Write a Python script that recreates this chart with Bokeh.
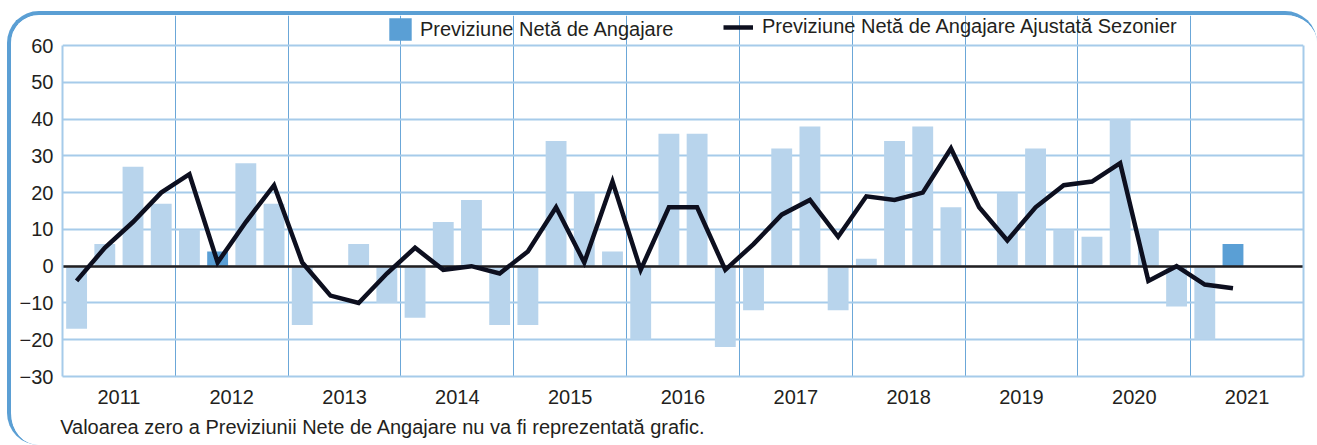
from bokeh.plotting import figure
from bokeh.models import (Range1d, FixedTicker, Legend, LegendItem,
                          LinearAxis, ColumnDataSource)
from bokeh.embed import file_html
from bokeh.resources import INLINE

# ---------------- data ----------------
years = ["2011", "2012", "2013", "2014", "2015", "2016",
         "2017", "2018", "2019", "2020", "2021"]
quarter_names = ["T1", "T2", "T3", "T4"]
quarters = [f"{y} {q}" for y in years for q in quarter_names][:42]

net_forecast = [-17, 6, 27, 17,
                10, 4, 28, 17,
                -16, 0, 6, -10,
                -14, 12, 18, -16,
                -16, 34, 20, 4,
                -20, 36, 36, -22,
                -12, 32, 38, -12,
                2, 34, 38, 16,
                0, 20, 32, 10,
                8, 40, 10, -11,
                -20, 6]

sa_forecast = [-4, 5, 12, 20,
               25, 1, 12, 22,
               1, -8, -10, -2,
               5, -1, 0, -2,
               4, 16, 1, 23,
               -1, 16, 16, -1,
               6, 14, 18, 8,
               19, 18, 20, 32,
               16, 7, 16, 22,
               23, 28, -4, 0,
               -5, -6]

highlighted = ["2012 T2", "2021 T2"]

y_ticks = [-30, -20, -10, 0, 10, 20, 30, 40, 50, 60]

legend_bar = "Previziune Netă de Angajare"
legend_line = "Previziune Netă de Angajare Ajustată Sezonier"
footnote = "Valoarea zero a Previziunii Nete de Angajare nu va fi reprezentată grafic."

# ---------------- styles ----------------
LIGHT = "#b8d4ec"
DARK = "#5a9fd5"
LINE = "#0d0f1f"
TEXT = "#231f20"
FONT = "Liberation Sans"
FS = "20px"
BORDER = "#5b9fd4"
EDGE = "#a6cbea"

# layout (pixels)
W, H = 1310, 434
PLOT_H = 331          # height of the gridded area
TOP_PAD = 30          # room for the legend above the gridded area
y_lo, y_hi = min(y_ticks), max(y_ticks)
y_top = y_hi + TOP_PAD * (y_hi - y_lo) / PLOT_H
FOOT_PAD = 108        # trailing no-break spaces so the centred label starts at the left edge

x = list(range(len(quarters)))
colors = [DARK if q in highlighted else LIGHT for q in quarters]
src = ColumnDataSource(dict(x=x, q=quarters, net=net_forecast,
                            sa=sa_forecast, color=colors))

n_slots = len(years) * 4
x_lo, x_hi = -0.5, n_slots - 0.5
p = figure(width=W, height=H, output_backend="svg", toolbar_location=None,
           x_range=Range1d(x_lo, x_hi), y_range=Range1d(y_lo, y_top),
           min_border_left=51, min_border_right=18, min_border_top=0,
           min_border_bottom=73)
p.styles = {"border-top": f"4px solid {BORDER}",
            "border-left": f"4px solid {BORDER}",
            "border-top-left-radius": "32px",
            "border-top-right-radius": "32px",
            "border-bottom-left-radius": "32px",
            "overflow": "hidden",
            "box-sizing": "border-box",
            "margin-left": "7px",
            "margin-top": "11px"}
p.background_fill_color = "white"
p.border_fill_color = "white"
p.outline_line_color = None

bars = p.vbar(x="x", top="net", width=0.74, bottom=0, color="color",
              line_color=None, source=src)
p.hspan(y=[0], line_color=TEXT, line_width=2.5)
line = p.line(x="x", y="sa", line_color=LINE, line_width=4.5,
              line_join="miter", source=src)

# axes
year_centers = [4 * i + 1.5 for i in range(len(years))]
xa = p.xaxis[0]
xa.ticker = FixedTicker(ticks=year_centers)
xa.major_label_overrides = {c: y for c, y in zip(year_centers, years)}
ya = p.yaxis[0]
ya.ticker = FixedTicker(ticks=y_ticks)
ya.bounds = (y_lo, y_hi)
ra = LinearAxis(ticker=FixedTicker(ticks=[]), bounds=(y_lo, y_hi),
                major_label_standoff=0)
p.add_layout(ra, "right")
for ax in (xa, ya, ra):
    ax.axis_line_color = EDGE
    ax.axis_line_width = 2
    ax.major_tick_line_color = None
    ax.minor_tick_line_color = None
    ax.major_tick_out = 0
    ax.major_tick_in = 0
    ax.major_label_text_font = FONT
    ax.major_label_text_color = TEXT
xa.major_label_text_font_size = FS
ya.major_label_text_font_size = FS
xa.major_label_standoff = 13
ya.major_label_standoff = 9

# footnote: label of an extra (line-less, tick-less) axis below the years
foot_axis = LinearAxis(ticker=FixedTicker(ticks=[]),
                       axis_line_color=None, major_tick_line_color=None,
                       minor_tick_line_color=None, major_tick_out=0,
                       major_tick_in=0, major_label_standoff=0,
                       axis_label=footnote + "\u00a0" * FOOT_PAD,
                       axis_label_text_font=FONT,
                       axis_label_text_font_size=FS,
                       axis_label_text_font_style="normal",
                       axis_label_text_color=TEXT, axis_label_standoff=9,
                       axis_label_align="center")
p.add_layout(foot_axis, "below")

p.xgrid.ticker = FixedTicker(ticks=[4 * i - 0.5 for i in range(1, len(years))])
p.xgrid.bounds = (y_lo, y_hi)
p.xgrid.grid_line_color = "#6ba7d8"
p.xgrid.grid_line_width = 1
p.ygrid.grid_line_color = EDGE
p.ygrid.grid_line_width = 2

# legends (inside the frame, above the gridded area)
common = dict(orientation="horizontal", padding=0, margin=0, spacing=0,
              border_line_color=None, background_fill_alpha=0,
              label_text_font=FONT, label_text_font_size=FS,
              label_text_color=TEXT)
leg1 = Legend(items=[LegendItem(label=legend_bar, renderers=[bars], index=5)],
              location=(324, PLOT_H + 2), glyph_width=28, glyph_height=28,
              label_height=28, label_standoff=6, **common)
leg2 = Legend(items=[LegendItem(label=legend_line, renderers=[line])],
              location=(661, PLOT_H + 7), glyph_width=30, glyph_height=22,
              label_height=22, label_standoff=9, **common)
p.add_layout(leg1, "center")
p.add_layout(leg2, "center")

open("out.html", "w").write(file_html(p, INLINE))
